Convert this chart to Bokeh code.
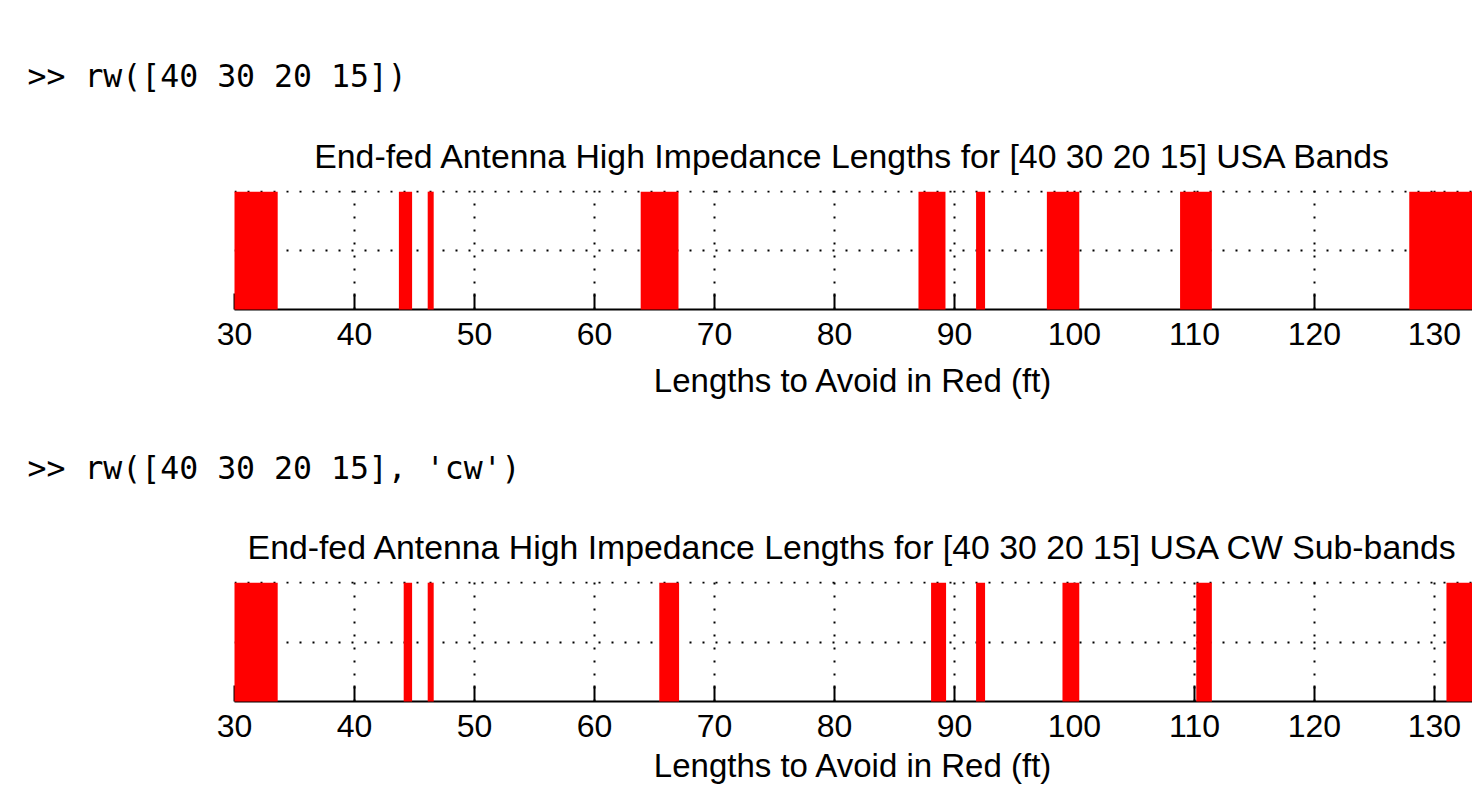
from bokeh.plotting import figure
from bokeh.layouts import column
from bokeh.models import Title, Grid, FixedTicker
from bokeh.embed import file_html
from bokeh.resources import INLINE

# ---- data ----
x_ticks = [30, 40, 50, 60, 70, 80, 90, 100, 110, 120, 130]
x_start = 30
x_end = 133.17
y_grid_ticks = [0.5, 1.0]

cmd_bands = ">> rw([40 30 20 15])"
title_bands = "End-fed Antenna High Impedance Lengths for [40 30 20 15] USA Bands"
cmd_cw = ">> rw([40 30 20 15], 'cw')"
title_cw = "End-fed Antenna High Impedance Lengths for [40 30 20 15] USA CW Sub-bands"
x_label = "Lengths to Avoid in Red (ft)"

# lengths to avoid (ft): start / end of each red band
bands_start = [30.0, 43.7, 46.1, 63.85, 87.0, 91.8, 97.7, 108.8, 127.9]
bands_end = [33.6, 44.8, 46.6, 67.0, 89.25, 92.55, 100.4, 111.45, 133.7]
cw_start = [30.0, 44.1, 46.1, 65.4, 88.05, 91.8, 99.0, 110.15, 131.0]
cw_end = [33.6, 44.8, 46.6, 67.05, 89.3, 92.55, 100.4, 111.45, 133.7]

FONT = "Liberation Sans"
MONO = "DejaVu Sans Mono"


def make_panel(cmd, title, starts, ends, height, top_border, bottom_border,
               cmd_standoff, tick_standoff, label_standoff):
    p = figure(width=1472, height=height, x_range=(x_start, x_end), y_range=(0, 1.01),
               output_backend="svg", toolbar_location=None, y_axis_location=None,
               min_border_left=234, min_border_right=0,
               min_border_top=top_border, min_border_bottom=bottom_border,
               background_fill_color="white", border_fill_color="white")
    p.outline_line_color = None

    # outermost: the command line
    p.title.text = cmd
    p.title.align = "left"
    p.title.offset = -207
    p.title.vertical_align = "top"
    p.title.text_font = MONO
    p.title.text_font_size = "31.5px"
    p.title.text_font_style = "normal"
    p.title.text_color = "black"
    p.title.standoff = cmd_standoff

    # closest to the frame: the chart title
    p.add_layout(Title(text=title, align="center", vertical_align="top",
                       text_font=FONT, text_font_size="33.8px",
                       text_font_style="normal", text_color="black",
                       standoff=27), "above")

    ax = p.xaxis[0]
    ax.ticker = FixedTicker(ticks=x_ticks)
    ax.major_tick_in = 16
    ax.major_tick_out = 0
    ax.minor_tick_line_color = None
    ax.axis_line_width = 2
    ax.axis_line_color = "black"
    ax.major_tick_line_width = 2
    ax.major_tick_line_color = "black"
    ax.major_label_text_font = FONT
    ax.major_label_text_font_size = "32px"
    ax.major_label_text_color = "black"
    ax.major_label_standoff = tick_standoff
    ax.axis_label = x_label
    ax.axis_label_text_font = FONT
    ax.axis_label_text_font_size = "33px"
    ax.axis_label_text_font_style = "normal"
    ax.axis_label_text_color = "black"
    ax.axis_label_standoff = label_standoff

    g = p.xgrid[0]
    g.ticker = FixedTicker(ticks=x_ticks)
    g.grid_line_color = "black"
    g.grid_line_width = 2
    g.grid_line_dash = "2 11"

    if len(p.ygrid) == 0:
        p.add_layout(Grid(dimension=1, ticker=FixedTicker(ticks=y_grid_ticks)))
    for yg in p.ygrid:
        yg.ticker = FixedTicker(ticks=y_grid_ticks)
        yg.grid_line_color = "black"
        yg.grid_line_width = 2
        yg.grid_line_dash = "2 11"

    p.quad(left=starts, right=ends, bottom=0, top=1, fill_color="#ff0000",
           line_color=None, level="overlay")
    return p


p1 = make_panel(cmd_bands, title_bands, bands_start, bands_end, 420, 190, 111, 55, 13, 14)
p2 = make_panel(cmd_cw, title_cw, cw_start, cw_end, 366, 161, 85, 54, 13, 7)

layout = column(p1, p2)
open("out.html", "w").write(file_html(layout, INLINE))
